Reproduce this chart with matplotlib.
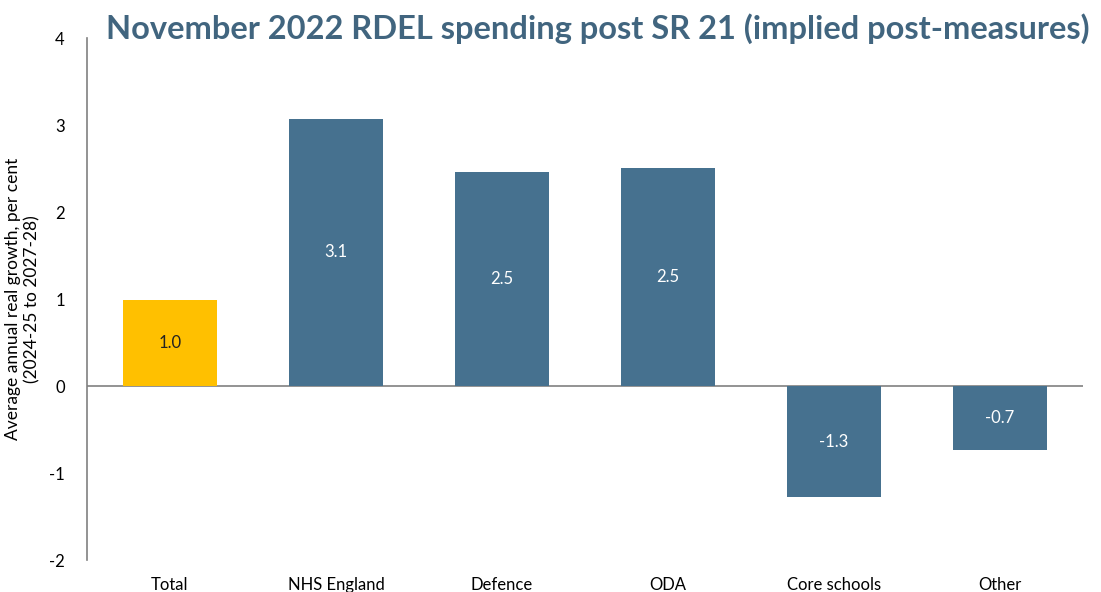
import matplotlib
matplotlib.use("Agg")
import matplotlib.pyplot as plt

categories = ["Total", "NHS England", "Defence", "ODA", "Core schools", "Other"]
values = [0.99, 3.07, 2.46, 2.51, -1.28, -0.74]
labels = ["1.0", "3.1", "2.5", "2.5", "-1.3", "-0.7"]
colors = ["#FFC000", "#46718F", "#46718F", "#46718F", "#46718F", "#46718F"]

plt.rcParams['font.family'] = ['Lato', 'DejaVu Sans']
plt.rcParams['axes.unicode_minus'] = False

fig = plt.figure(figsize=(11.01, 5.92), dpi=100)
ax = fig.add_axes([0.079, 0.054, 0.9047, 0.8818])

x = range(len(categories))
bars = ax.bar(x, values, width=0.57, color=colors, zorder=2)
for b, v, lab, c in zip(bars, values, labels, colors):
    tc = "#222222" if c == "#FFC000" else "white"
    ax.text(b.get_x() + b.get_width() / 2, v / 2, lab, ha="center", va="center",
            fontsize=12, color=tc, zorder=3)

ax.axhline(0, color="#808080", lw=1.2, zorder=1)
ax.set_xlim(-0.5, 5.5)
ax.set_ylim(-2, 4)
ax.set_yticks([-2, -1, 0, 1, 2, 3, 4])
ax.set_xticks(list(x))
ax.set_xticklabels(categories, fontsize=12)
ax.tick_params(axis="both", length=0, labelsize=12)
ax.tick_params(axis="x", pad=12)
ax.tick_params(axis="y", pad=16)
for s in ["top", "right", "bottom"]:
    ax.spines[s].set_visible(False)
ax.spines["left"].set_color("#808080")
ax.spines["left"].set_linewidth(1.2)

ax.set_ylabel("Average annual real growth, per cent\n(2024-25 to 2027-28)", fontsize=12.5,
              labelpad=6, linespacing=1.25)

fig.text(0.543, 0.952, "November 2022 RDEL spending post SR 21 (implied post-measures)",
         ha="center", va="center", fontsize=23.5, fontweight="bold", color="#41657F")

fig.savefig("out.png", dpi=100)
